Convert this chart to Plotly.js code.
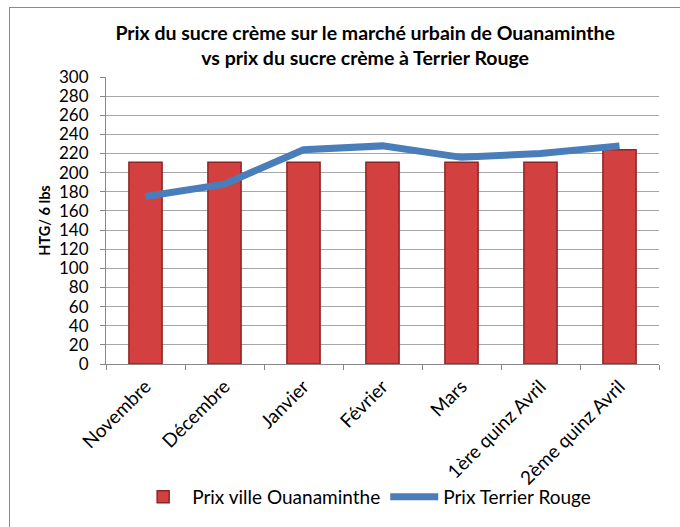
<!DOCTYPE html>
<html>
<head>
<meta charset="utf-8">
<script src="https://cdn.plot.ly/plotly-3.0.1.min.js"></script>
<style>
html,body{margin:0;padding:0;background:#fff;overflow:hidden;}
#frame{position:absolute;left:9px;top:7px;width:700px;height:540px;border:1px solid #8a8a8a;box-sizing:border-box;}
#chart{position:absolute;left:0;top:0;width:680px;height:527px;}
</style>
</head>
<body>
<div id="frame"></div>
<div id="chart"></div>
<script>
var categories = ["Novembre", "Décembre", "Janvier", "Février", "Mars", "1ère quinz Avril", "2ème quinz Avril"];
var prixOuanaminthe = [211, 211, 211, 211, 211, 211, 224];
var prixTerrierRouge = [175, 188, 224, 228, 216, 220, 228];
var yTicks = [0, 20, 40, 60, 80, 100, 120, 140, 160, 180, 200, 220, 240, 260, 280, 300];

var font = "Lato, 'Open Sans', 'Liberation Sans', sans-serif";

var traces = [
  {
    type: "bar",
    name: "Prix ville Ouanaminthe",
    x: categories,
    y: prixOuanaminthe,
    width: 0.42,
    marker: {color: "#d2403f", line: {color: "#8e2424", width: 1.5}},
    hoverinfo: "x+y"
  },
  {
    type: "scatter",
    mode: "lines",
    name: "Prix Terrier Rouge",
    x: categories,
    y: prixTerrierRouge,
    line: {color: "#4a7ebb", width: 7},
    hoverinfo: "x+y"
  }
];

var layout = {
  width: 680,
  height: 527,
  margin: {l: 106, r: 21, t: 77, b: 163},
  paper_bgcolor: "rgba(0,0,0,0)",
  plot_bgcolor: "#ffffff",
  font: {family: font, size: 17, color: "#000"},
  title: {
    text: "<b>Prix du sucre crème sur le marché urbain de Ouanaminthe<br>vs prix du sucre crème à Terrier Rouge</b>",
    font: {family: font, size: 19.5, color: "#000"},
    x: 0.537,
    xanchor: "center",
    y: 0.924,
    yanchor: "top"
  },
  xaxis: {
    type: "category",
    tickangle: -45,
    showline: true,
    linecolor: "#888",
    linewidth: 1,
    ticks: "outside",
    tickson: "boundaries",
    ticklen: 5,
    tickcolor: "#888",
    showgrid: false,
    tickfont: {family: font, size: 19},
    ticklabelstandoff: 3,
    range: [-0.5, 6.5]
  },
  yaxis: {
    range: [0, 300],
    tickvals: yTicks,
    ticktext: yTicks.map(String),
    showline: true,
    linecolor: "#888",
    ticks: "outside",
    ticklen: 5,
    tickcolor: "#888",
    showgrid: true,
    gridcolor: "#a6a6a6",
    gridwidth: 1,
    zeroline: false,
    tickfont: {family: font, size: 17},
    ticklabelstandoff: 8,
    title: {text: "<b>HTG/ 6 lbs</b>", font: {family: font, size: 14.5}, standoff: 4}
  },
  legend: {
    orientation: "h",
    xref: "container",
    yref: "container",
    x: 0.537,
    xanchor: "center",
    y: 0.057,
    yanchor: "middle",
    font: {family: font, size: 19, color: "#000"},
    itemwidth: 48,
    traceorder: "normal"
  },
  showlegend: true,
  bargap: 0.5
};

Plotly.newPlot("chart", traces, layout, {displayModeBar: false, staticPlot: true});
</script>
</body>
</html>
